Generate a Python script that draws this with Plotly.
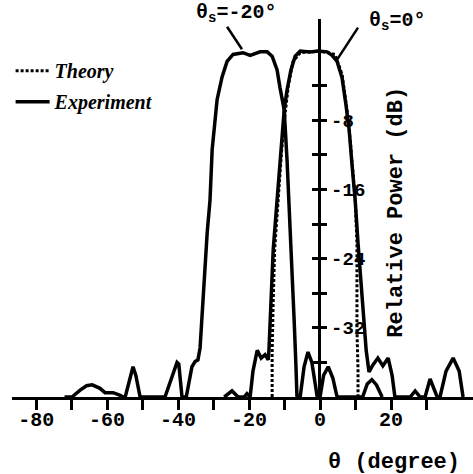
import plotly.graph_objects as go

# ---- data ----
exp_m20_theta = [-72.0, -69.9, -67.6, -65.8, -64.2, -62.0, -60.6, -58.3, -56.3, -55.5,
                 -54.9, -53.5, -52.7, -51.9, -50.7, -43.7, -41.2, -40.3, -39.8, -38.9,
                 -37.7, -36.1, -35.2, -34.4, -33.8, -33.0, -31.8, -31.0, -30.4, -29.0,
                 -27.6, -26.2, -24.5, -21.7, -19.7, -16.9, -14.9, -13.5, -12.1, -11.3,
                 -10.1, -9.3, -8.5, -7.9, -7.3, -6.8, -6.5, -5.6, -4.5, -3.4, -2.3,
                 -1.1, -0.8, 0.0, 1.0, 2.3, 3.6, 4.8, 12.0, 13.3, 14.6, 15.9, 17.5]
exp_m20_db = [-40, -40, -39.2, -38.7, -38.6, -39.0, -39.5, -39.5, -39.8, -40,
              -40, -37.5, -36.5, -37.5, -40, -40, -37.0, -36.0, -36.2, -40,
              -40, -36.5, -35.9, -35.7, -34.3, -28.8, -21.0, -17.2, -11.4, -5.6,
              -3.0, -1.2, -0.4, -0.2, -0.5, -0.1, -0.1, -0.6, -2.2, -4.2,
              -6.8, -12.6, -19.5, -24.1, -31.1, -36.3, -40, -40, -36.5, -34.8, -36.0,
              -39.2, -40, -40, -37.5, -36.5, -37.8, -40, -40, -38.5, -38.0, -38.6, -40]

exp_0_theta = [-27.0, -24.8, -23.1, -21.4, -20.6, -19.7, -18.9, -17.7, -16.6, -15.5,
               -14.6, -14.4, -13.8, -13.2, -12.1, -11.0, -10.1, -9.3, -8.2, -7.0,
               -5.6, -2.8, -0.6, 2.0, 3.4, 4.8, 6.2, 7.3, 8.2, 9.0,
               9.9, 10.7, 11.5, 12.1, 13.0, 13.8, 14.9, 16.3, 17.7, 19.2,
               20.3, 21.1, 25.4, 26.8, 28.2, 29.6, 31.0, 33.0, 33.8, 35.5,
               37.5, 39.2, 40.3]
exp_0_db = [-40, -39.3, -40, -40, -39.6, -40, -37.0, -34.6, -35.5, -35.1,
            -35.7, -34.6, -28.8, -23.0, -17.2, -11.4, -6.8, -4.5, -2.2, -0.6,
            0.0, -0.1, 0.0, -0.1, -0.5, -1.2, -3.1, -6.2, -9.1, -13.1,
            -17.2, -22.2, -26.5, -30.3, -34.6, -37.1, -36.3, -35.5, -36.4, -35.5,
            -37.5, -40, -40, -39.3, -40, -40, -37.9, -40, -40, -37.0,
            -35.5, -37.0, -40]

theory_theta = [-13.5, -13.5, -13.2, -12.8, -11.8, -10.8, -9.8, -8.9, -7.6, -5.6,
                0.0, 4.2, 6.2, 7.6, 8.5, 9.3, 9.9, 10.4, 10.4, 10.4, 10.7, 10.7]
theory_db = [-40, -35.0, -29.0, -23.0, -17.2, -11.4, -7.1, -3.9, -1.2, -0.2,
             0.0, -0.4, -2.7, -6.8, -10.3, -14.3, -17.2, -22.2, -27.6, -32.2, -36.9, -40]

x_tickvals = [-80, -70, -60, -50, -40, -30, -20, -10, 0, 10, 20, 30]
x_ticktext = ["-80", "", "-60", "", "-40", "", "-20", "", "0", "", "20", ""]
y_tickvals = [-4, -8, -12, -16, -20, -24, -28, -32, -36]
y_ticktext = ["", "-8", "", "-16", "", "-24", "", "-32", ""]

X_RANGE = [-86.8, 43.1]
Y_RANGE = [-40, 3.7]
Y_POS = 0.665

MONO = "Liberation Mono"

fig = go.Figure()
fig.add_trace(go.Scatter(x=theory_theta, y=theory_db, mode="lines", name="Theory",
                         line=dict(color="black", width=3, dash="3px,2px"),
                         legendrank=1, legendgroup="t"))
fig.add_trace(go.Scatter(x=exp_m20_theta, y=exp_m20_db, mode="lines", name="Experiment",
                         line=dict(color="black", width=3.5),
                         legendrank=2, legendgroup="e"))
fig.add_trace(go.Scatter(x=exp_0_theta, y=exp_0_db, mode="lines", name="Experiment",
                         line=dict(color="black", width=3.5), showlegend=False,
                         legendgroup="e"))
# invisible trace so the second (left-tick) axis is drawn
fig.add_trace(go.Scatter(x=[0], y=[-40], yaxis="y2", mode="markers",
                         marker=dict(opacity=0), showlegend=False, hoverinfo="skip"))

fig.update_layout(
    width=473, height=474,
    margin=dict(l=12, r=0, t=19.4, b=77, autoexpand=False),
    paper_bgcolor="white", plot_bgcolor="white",
    showlegend=True,
    legend=dict(x=-0.003, y=0.915, xanchor="left", yanchor="top",
                bgcolor="rgba(0,0,0,0)", traceorder="grouped", tracegroupgap=2,
                itemwidth=34,
                font=dict(family="Liberation Serif", size=20, color="black",
                          style="italic", weight="bold")),
    xaxis=dict(range=X_RANGE, showgrid=False, zeroline=False,
               showline=True, linecolor="black", linewidth=3,
               ticks="outside", ticklen=10, tickwidth=2.5, tickcolor="black",
               tickvals=x_tickvals, ticktext=x_ticktext, ticklabelstandoff=-8,
               tickfont=dict(family=MONO, size=20, color="black", weight="bold")),
    yaxis=dict(range=Y_RANGE, showgrid=False, zeroline=False,
               anchor="free", position=Y_POS, side="right",
               showline=True, linecolor="black", linewidth=2.5,
               ticks="outside", ticklen=7, tickwidth=2.5, tickcolor="black",
               tickvals=y_tickvals, ticktext=y_ticktext,
               tickfont=dict(family=MONO, size=19, color="black", weight="bold")),
    yaxis2=dict(range=Y_RANGE, overlaying="y", anchor="free", position=Y_POS,
                side="left", showgrid=False, zeroline=False, showline=False,
                ticks="outside", ticklen=7, tickwidth=2.5, tickcolor="black",
                tickvals=y_tickvals, showticklabels=False),
)

txt_font = dict(family=MONO, size=20, color="black", weight="bold")
ann = [
    dict(text="θ<sub>s</sub>=-20°", x=0.486, y=1.014, xref="paper", yref="paper",
         showarrow=False, font=txt_font, xanchor="center", yanchor="middle"),
    dict(text="θ<sub>s</sub>=0°", x=0.835, y=0.994, xref="paper", yref="paper",
         showarrow=False, font=txt_font, xanchor="center", yanchor="middle"),
    dict(text="Relative Power (dB)", x=0.835, y=0.49, xref="paper", yref="paper",
         showarrow=False, textangle=-90,
         font=dict(family=MONO, size=22, color="black", weight="bold"),
         xanchor="center", yanchor="middle"),
    dict(text="θ (degree)", x=0.829, y=-0.172, xref="paper", yref="paper",
         showarrow=False, font=dict(family=MONO, size=22, color="black", weight="bold"),
         xanchor="center", yanchor="middle"),
]
fig.update_layout(annotations=ann)

# leader lines from the beam labels to the beams
fig.add_shape(type="line", xref="x", yref="y", x0=-26.2, y0=2.8, x1=-22.0, y1=0.2,
              line=dict(color="black", width=2.5))
fig.add_shape(type="line", xref="x", yref="y", x0=10.7, y0=2.7, x1=4.8, y1=-1.0,
              line=dict(color="black", width=2.5))

fig.write_html("out.html", config={"displayModeBar": False},
               post_script="document.body.style.margin='0';")
